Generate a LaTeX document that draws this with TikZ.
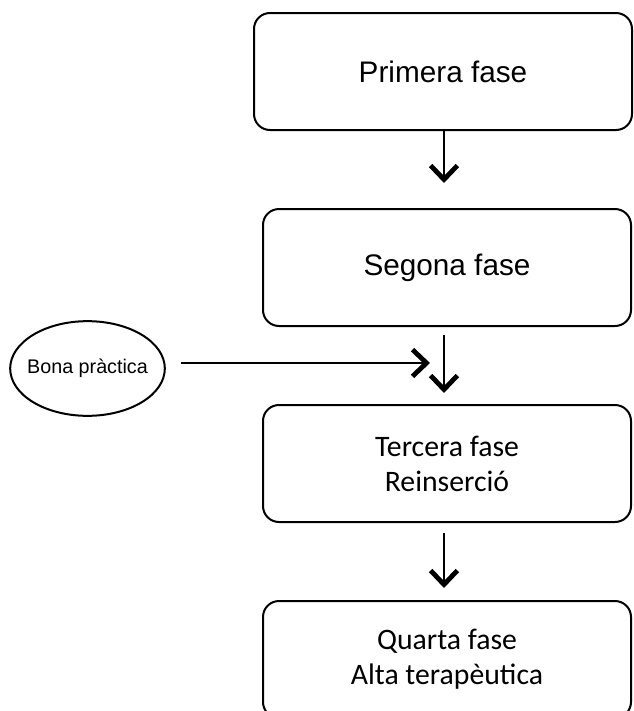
\documentclass[tikz,border=0pt]{standalone}
\usepackage{fontspec}
\usetikzlibrary{arrows.meta,shapes.geometric}
\newfontfamily\arialf{Liberation Sans}
\newfontfamily\calibf{Carlito}
\tikzset{
  phase/.style={draw, line width=1.5pt, rounded corners=12pt, inner sep=0pt,
    minimum height=87.75pt, align=center},
  widebox/.style={minimum width=283.5pt},
  narrowbox/.style={minimum width=276pt},
  arialtxt/.style={font=\fontsize{22.3}{26}\selectfont\arialf},
  calibtxt/.style={font=\fontsize{22.3}{26.25}\selectfont\calibf},
  oval/.style={draw, ellipse, line width=1.5pt, inner sep=0pt,
    minimum width=116pt, minimum height=71pt,
    font=\fontsize{14.8}{17}\selectfont\arialf},
  flow/.style={line width=1.1pt,
    -{Straight Barb[length=10.5pt,width=20pt,line width=3.6pt]}}
}
\begin{document}
\begin{tikzpicture}[x=0.75pt,y=-0.75pt]
\useasboundingbox (0,0) rectangle (633,711);

% phase boxes
\node[phase, widebox, arialtxt] (f1) at (443,71.5) {Primera fase};
\node[phase, narrowbox, arialtxt] (f2) at (447,267.5) {Segona fase};
\node[phase, narrowbox, calibtxt] (f3) at (447,463.5) {Tercera fase\\Reinserció};
\node[phase, narrowbox, calibtxt] (f4) at (447,659.5) {Quarta fase\\Alta terapèutica};

% side input: the oval keeps its own size, the label is centred in it
\node[oval] (bp) at (87.5,368.5) {\makebox[0pt]{Bona pràctica}};

% arrow end points
\coordinate (t1) at (444,183);
\coordinate (s2) at (444,335);
\coordinate (t2) at (444,393);
\coordinate (th) at (430,363);
\coordinate (t3) at (444,588);

% connectors
\draw[flow] (f1.south -| t1) -- (t1);
\draw[flow] (s2) -- (t2);
\draw[flow, shorten <=11pt] (bp.east |- th) -- (th);
\draw[flow, shorten <=7.5pt] (f3.south -| t3) -- (t3);
\end{tikzpicture}
\end{document}
